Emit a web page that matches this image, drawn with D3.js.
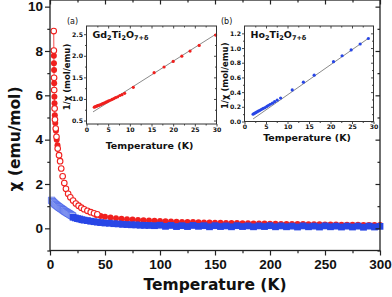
<!DOCTYPE html>
<html>
<head>
<meta charset="utf-8">
<script src="https://cdn.jsdelivr.net/npm/d3@7"></script>
<style>
  body { margin: 0; background: #fff; }
  svg text { font-family: "DejaVu Sans", sans-serif; font-weight: bold; fill: #111; }
</style>
</head>
<body>
<svg width="392" height="297"></svg>
<script>
// ---- main plot: chi vs T ----
var gdOpenT   = [3.4, 3.5, 3.7, 3.8, 4.2, 4.5, 5.2, 5.9, 7.0, 8.2, 9.2, 10.2, 11.5, 13.0, 14.5, 16.5, 18.5, 21.0, 23.5, 26.0, 28.5, 31.0, 34.0, 37.0, 40.0, 43.0];
var gdOpenChi = [8.9, 8.02, 6.79, 6.24, 5.41, 4.91, 4.5, 4.13, 3.6, 3.3, 3.03, 2.7, 2.35, 2.04, 1.78, 1.56, 1.4, 1.25, 1.12, 1.02, 0.93, 0.86, 0.79, 0.73, 0.68, 0.63];

var gdFilledT   = [3.5, 3.6, 3.7, 3.8, 4.0, 4.1, 4.4, 4.8, 5.4, 6.1, 6.8,
  42, 46, 50, 55, 60, 65, 70, 75, 80, 85, 90, 95, 100, 105, 110, 115, 120, 125, 130, 135, 140, 145, 150,
  155, 160, 165, 170, 175, 180, 185, 190, 195, 200, 205, 210, 215, 220, 225, 230, 235, 240, 245, 250,
  255, 260, 265, 270, 275, 280, 285, 290, 295, 300];
var gdFilledChi = [7.78, 7.45, 7.14, 6.54, 5.94, 5.64, 5.1, 4.75, 4.4, 4.0, 3.75,
  0.60, 0.56, 0.52, 0.49, 0.46, 0.43, 0.41, 0.40, 0.38, 0.36, 0.35, 0.34, 0.33, 0.32, 0.31, 0.30, 0.29, 0.285, 0.28, 0.27, 0.265, 0.26, 0.255,
  0.25, 0.245, 0.24, 0.235, 0.23, 0.225, 0.22, 0.22, 0.215, 0.21, 0.205, 0.20, 0.20, 0.195, 0.19, 0.19, 0.185, 0.18, 0.18, 0.175,
  0.17, 0.17, 0.165, 0.165, 0.16, 0.16, 0.155, 0.155, 0.15, 0.15];

var hoOpenT   = [1.5, 2.5, 3.5, 4.5, 5.5, 6.5, 7.5, 8.5, 9.5, 10.5, 11.5, 12.5, 13.5, 14.5, 15.5, 16.5, 17.5, 18.5, 19.5, 20.5];
var hoOpenChi = [1.26, 1.2, 1.15, 1.10, 1.06, 1.02, 0.98, 0.95, 0.91, 0.88, 0.84, 0.81, 0.77, 0.74, 0.71, 0.68, 0.65, 0.62, 0.59, 0.56];

var hoFilledT   = [21, 23, 25, 27, 29, 31, 34, 37, 40, 43, 46, 50, 54, 58, 62, 66, 70, 74, 78, 82, 86, 90, 95,
  100, 105, 110, 115, 120, 125, 130, 135, 140, 145, 150, 155, 160, 165, 170, 175, 180, 185, 190, 195, 200,
  205, 210, 215, 220, 225, 230, 235, 240, 245, 250, 255, 260, 265, 270, 275, 280, 285, 290, 295, 300];
var hoFilledChi = [0.50, 0.47, 0.44, 0.42, 0.39, 0.37, 0.35, 0.32, 0.30, 0.28, 0.26, 0.24, 0.23, 0.21, 0.20, 0.18, 0.17, 0.16, 0.155, 0.14, 0.135, 0.13, 0.12,
  0.14, 0.09, 0.13, 0.08, 0.12, 0.08, 0.13, 0.09, 0.12, 0.07, 0.12, 0.08, 0.11, 0.07, 0.12, 0.08, 0.11, 0.07, 0.11, 0.08, 0.12,
  0.07, 0.11, 0.07, 0.10, 0.06, 0.11, 0.07, 0.10, 0.06, 0.11, 0.07, 0.10, 0.06, 0.10, 0.06, 0.10, 0.05, 0.10, 0.06, 0.09];

var xMajor = [0, 50, 100, 150, 200, 250, 300];
var xMinor = [25, 75, 125, 175, 225, 275];
var yMajor = [0, 2, 4, 6, 8, 10];
var yMinor = [-1, 1, 3, 5, 7, 9];

// ---- inset (a): Gd2Ti2O7+d, 1/chi vs T ----
var gdInvT   = [1.8, 2.0, 2.2, 2.4, 2.6, 2.8, 3.0, 3.3, 3.6, 3.9, 4.2, 4.5, 4.8, 5.1, 5.5, 5.9, 6.3, 6.7, 7.2, 7.7, 8.2, 8.8, 10.8, 15.6, 17.9, 20, 22, 23.9, 26, 29.8];
var gdInv    = [0.81, 0.82, 0.83, 0.835, 0.845, 0.85, 0.86, 0.87, 0.885, 0.9, 0.91, 0.925, 0.94, 0.955, 0.97, 0.99, 1.01, 1.03, 1.05, 1.08, 1.1, 1.13, 1.27, 1.61, 1.74, 1.87, 1.99, 2.11, 2.24, 2.48];
var gdFitT   = [1.5, 30];
var gdFit    = [0.70, 2.51];

// ---- inset (b): Ho2Ti2O7+d ----
var hoInvT   = [2.0, 2.3, 2.6, 2.9, 3.2, 3.5, 3.8, 4.1, 4.4, 4.8, 5.2, 5.6, 6.0, 6.5, 7.0, 7.6, 8.4, 11.1, 13.7, 16.2, 20.7, 22.7, 24.8, 26.9, 28.8];
var hoInv    = [0.10, 0.11, 0.12, 0.13, 0.14, 0.15, 0.16, 0.17, 0.18, 0.19, 0.205, 0.22, 0.235, 0.25, 0.27, 0.29, 0.32, 0.43, 0.535, 0.63, 0.815, 0.895, 0.975, 1.055, 1.13];
var hoFitT   = [2, 29];
var hoFit    = [0.035, 1.14];

var RED = '#f0201e';
var BLUE = '#2846e6';

var svg = d3.select('svg');

function zip(a, b){
  return a.map(function(v, i){ return [v, b[i]]; });
}

function styleText(sel, size, family){
  sel.selectAll('text')
    .attr('font-family', null)
    .style('font-family', family || null)
    .style('font-size', size + 'px')
    .style('font-weight', 'bold')
    .attr('fill', '#111');
}

// main frame (window.top is read-only, so keep these names distinct)
var frameL = 50, frameR = 380, frameT = 0, frameB = 250.5;
var x = d3.scaleLinear().domain([0, 300]).range([frameL, frameR]);
var y = d3.scaleLinear().domain([-1, 10.3]).range([frameB, frameT]);

function tickAxis(axis, tr, size){
  var g = svg.append('g').attr('transform', tr).call(axis);
  g.select('.domain').remove();
  g.selectAll('line').attr('stroke', '#222').attr('stroke-width', 1.2);
  styleText(g, size, '"Liberation Sans", Arial, sans-serif');
  return g;
}

// data: Gd filled first, then open circles, then Ho on top
var plot = svg.append('g');

plot.selectAll('circle.gdf')
  .data(zip(gdFilledT, gdFilledChi))
  .enter().append('circle')
  .attr('class', 'gdf')
  .attr('cx', function(d){ return x(d[0]); })
  .attr('cy', function(d){ return y(d[1]); })
  .attr('r', 3)
  .attr('fill', RED);

plot.append('path')
  .datum(zip(gdOpenT, gdOpenChi).slice(0, 9))
  .attr('d', d3.line().x(function(d){ return x(d[0]); }).y(function(d){ return y(d[1]); }))
  .attr('fill', 'none')
  .attr('stroke', RED)
  .attr('stroke-width', 0.8);

plot.selectAll('circle.gdo')
  .data(zip(gdOpenT, gdOpenChi))
  .enter().append('circle')
  .attr('class', 'gdo')
  .attr('cx', function(d){ return x(d[0]); })
  .attr('cy', function(d){ return y(d[1]); })
  .attr('r', 2.8)
  .attr('fill', '#fff')
  .attr('stroke', RED)
  .attr('stroke-width', 1.1);

var square = d3.symbol().type(d3.symbolSquare).size(42);
plot.selectAll('path.hoo')
  .data(zip(hoOpenT, hoOpenChi))
  .enter().append('path')
  .attr('class', 'hoo')
  .attr('d', square)
  .attr('transform', function(d){ return 'translate(' + x(d[0]) + ',' + y(d[1]) + ')'; })
  .attr('fill', '#c8d2f7')
  .attr('stroke', BLUE)
  .attr('stroke-width', 0.6);

var bigSquare = d3.symbol().type(d3.symbolSquare).size(46);
plot.selectAll('path.hof')
  .data(zip(hoFilledT, hoFilledChi))
  .enter().append('path')
  .attr('class', 'hof')
  .attr('d', bigSquare)
  .attr('transform', function(d){ return 'translate(' + x(d[0]) + ',' + y(d[1]) + ')'; })
  .attr('fill', BLUE);

tickAxis(d3.axisBottom(x).tickValues(xMajor).tickSize(5).tickPadding(4).tickFormat(d3.format('d')), 'translate(0,' + frameB + ')', 13.5);
tickAxis(d3.axisBottom(x).tickValues(xMinor).tickSize(2.7).tickFormat(''), 'translate(0,' + frameB + ')', 10);
tickAxis(d3.axisTop(x).tickValues(xMajor).tickSize(-4.5).tickFormat(''), 'translate(0,' + frameT + ')', 10);
tickAxis(d3.axisTop(x).tickValues(xMinor).tickSize(-2.5).tickFormat(''), 'translate(0,' + frameT + ')', 10);
tickAxis(d3.axisLeft(y).tickValues(yMajor).tickSize(5).tickPadding(2).tickFormat(d3.format('d')), 'translate(' + frameL + ',0)', 13.5);
tickAxis(d3.axisLeft(y).tickValues(yMinor).tickSize(2.7).tickFormat(''), 'translate(' + frameL + ',0)', 10);
tickAxis(d3.axisRight(y).tickValues(yMajor).tickSize(-4.5).tickFormat(''), 'translate(' + frameR + ',0)', 10);
tickAxis(d3.axisRight(y).tickValues(yMinor).tickSize(-2.5).tickFormat(''), 'translate(' + frameR + ',0)', 10);

// frame
svg.append('rect')
  .attr('x', frameL).attr('y', frameT)
  .attr('width', frameR - frameL).attr('height', frameB - frameT)
  .attr('fill', 'none').attr('stroke', '#222').attr('stroke-width', 1.3);

// axis titles
svg.append('text')
  .attr('x', 215).attr('y', 290)
  .attr('text-anchor', 'middle')
  .style('font-size', '15.5px')
  .text('Temperature (K)');

svg.append('text')
  .attr('transform', 'translate(20,139) rotate(-90)')
  .attr('text-anchor', 'middle')
  .style('font-size', '15.5px')
  .text('\u03C7 (emu/mol)');

// ---- insets ----
function inset(o){
  var g = svg.append('g');
  var ix = d3.scaleLinear().domain([0, 30]).range([o.left, o.right]);
  var iy = d3.scaleLinear().domain(o.yDomain).range([o.bottom, o.top]);

  g.append('rect')
    .attr('x', o.left).attr('y', o.top)
    .attr('width', o.right - o.left).attr('height', o.bottom - o.top)
    .attr('fill', '#fff');

  function ax(axis, tr, size){
    var a = g.append('g').attr('transform', tr).call(axis);
    a.select('.domain').remove();
    a.selectAll('line').attr('stroke', '#333').attr('stroke-width', 0.9);
    styleText(a, size);
  }
  ax(d3.axisBottom(ix).tickValues([0, 5, 10, 15, 20, 25, 30]).tickSize(2.5).tickPadding(1), 'translate(0,' + o.bottom + ')', 6.2);
  ax(d3.axisBottom(ix).tickValues([2.5, 7.5, 12.5, 17.5, 22.5, 27.5]).tickSize(1.5).tickFormat(''), 'translate(0,' + o.bottom + ')', 6);
  ax(d3.axisTop(ix).tickValues([5, 10, 15, 20, 25]).tickSize(-2.5).tickFormat(''), 'translate(0,' + o.top + ')', 6);
  ax(d3.axisTop(ix).tickValues([2.5, 7.5, 12.5, 17.5, 22.5, 27.5]).tickSize(-1.5).tickFormat(''), 'translate(0,' + o.top + ')', 6);
  ax(d3.axisLeft(iy).tickValues(o.yMajor).tickSize(2.5).tickPadding(1).tickFormat(d3.format('.1f')), 'translate(' + o.left + ',0)', 6.2);
  ax(d3.axisLeft(iy).tickValues(o.yMinor).tickSize(1.5).tickFormat(''), 'translate(' + o.left + ',0)', 6);
  ax(d3.axisRight(iy).tickValues(o.yMajor).tickSize(-2.5).tickFormat(''), 'translate(' + o.right + ',0)', 6);
  ax(d3.axisRight(iy).tickValues(o.yMinor).tickSize(-1.5).tickFormat(''), 'translate(' + o.right + ',0)', 6);

  g.append('path')
    .datum(zip(o.fitT, o.fit))
    .attr('d', d3.line().x(function(d){ return ix(d[0]); }).y(function(d){ return iy(d[1]); }))
    .attr('stroke', '#8a8a8a').attr('stroke-width', 1).attr('fill', 'none');

  g.selectAll('circle')
    .data(zip(o.t, o.v))
    .enter().append('circle')
    .attr('cx', function(d){ return ix(d[0]); })
    .attr('cy', function(d){ return iy(d[1]); })
    .attr('r', 1.6)
    .attr('fill', o.color);

  g.append('rect')
    .attr('x', o.left).attr('y', o.top)
    .attr('width', o.right - o.left).attr('height', o.bottom - o.top)
    .attr('fill', 'none').attr('stroke', '#333').attr('stroke-width', 1);

  g.append('text')
    .attr('x', (o.left + o.right) / 2 - 2).attr('y', o.xTitleY)
    .attr('text-anchor', 'middle')
    .style('font-size', '9.5px')
    .text('Temperature (K)');

  g.append('text')
    .attr('transform', 'translate(' + o.yTitleX + ',' + ((o.top + o.bottom) / 2 + 2) + ') rotate(-90)')
    .attr('text-anchor', 'middle')
    .style('font-size', '8.5px')
    .text('1/\u03C7 (mol/emu)');

  g.append('text')
    .attr('x', o.tagX).attr('y', 24)
    .style('font-size', '8px').style('font-weight', 'normal')
    .text(o.tag);

  var f = g.append('text')
    .attr('x', o.left + 6).attr('y', o.top + 11.5)
    .style('font-size', '9.5px');
  o.formula.forEach(function(p){
    if(p[1]){
      f.append('tspan').attr('dy', 2.5).style('font-size', '6.5px').text(p[0]);
    } else {
      f.append('tspan').attr('dy', p[2] || 0).text(p[0]);
    }
  });
}

inset({
  left: 86.5, right: 216.5, top: 26, bottom: 124,
  yDomain: [0.42, 2.69],
  yMajor: [0.5, 1.0, 1.5, 2.0, 2.5], yMinor: [0.75, 1.25, 1.75, 2.25],
  t: gdInvT, v: gdInv, fitT: gdFitT, fit: gdFit, color: RED,
  xTitleY: 148.5, yTitleX: 70, tagX: 67, tag: '(a)',
  formula: [['Gd'], ['2', true], ['Ti', false, -2.5], ['2', true], ['O', false, -2.5], ['7+\u03B4', true]]
});

inset({
  left: 244.5, right: 373.5, top: 26, bottom: 121.5,
  yDomain: [0, 1.3],
  yMajor: [0.0, 0.2, 0.4, 0.6, 0.8, 1.0, 1.2], yMinor: [0.1, 0.3, 0.5, 0.7, 0.9, 1.1],
  t: hoInvT, v: hoInv, fitT: hoFitT, fit: hoFit, color: BLUE,
  xTitleY: 140.5, yTitleX: 228, tagX: 221, tag: '(b)',
  formula: [['Ho'], ['2', true], ['Ti', false, -2.5], ['2', true], ['O', false, -2.5], ['7+\u03B4', true]]
});
</script>
</body>
</html>
